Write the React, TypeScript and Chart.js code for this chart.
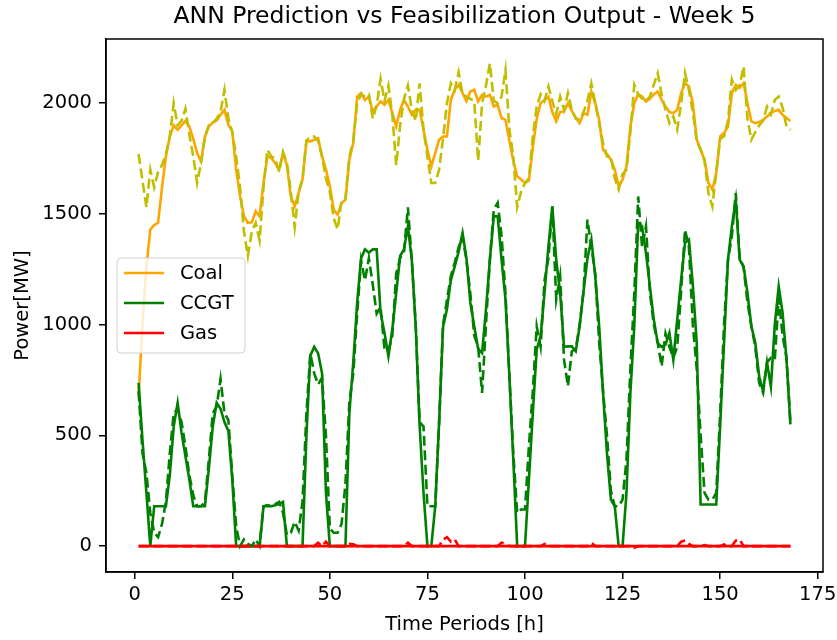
import React, { useEffect, useRef } from "react";
import { Chart, registerables } from "chart.js";

Chart.register(...registerables);

const TITLE = "ANN Prediction vs Feasibilization Output - Week 5";
const X_LABEL = "Time Periods [h]";
const Y_LABEL = "Power[MW]";
const X_TICKS = [0, 25, 50, 75, 100, 125, 150, 175];
const Y_TICKS = [0, 500, 1000, 1500, 2000];

const HOURS = Array.from({ length: 168 }, (_, i) => i + 1);

const COAL_FEAS = [
  680, 1000, 1260, 1430, 1450, 1460, 1620, 1760, 1850, 1900, 1880, 1900, 1920, 1895, 1840, 1775, 1737, 1850, 1895, 1913,
  1922, 1948, 1970, 1903, 1873, 1700, 1580, 1490, 1460, 1462, 1512, 1489, 1640, 1760, 1752, 1730, 1700, 1775, 1720, 1580,
  1534, 1594, 1655, 1830, 1828, 1835, 1843, 1760, 1700, 1625, 1519, 1497, 1549, 1564, 1745, 1820, 2030, 2046, 2015, 2030,
  1963, 1985, 2008, 1993, 2015, 1955, 1895, 1970, 2015, 1985, 1948, 1970, 1970, 1880, 1790, 1715, 1775, 1835, 1850, 1850,
  2015, 2061, 2083, 2046, 2010, 2053, 2061, 2008, 2038, 2030, 2038, 1985, 1993, 1933, 1925, 1830, 1740, 1670, 1655, 1640,
  1650, 1800, 1930, 2000, 2015, 2030, 1960, 1918, 1960, 1963, 2000, 1965, 1935, 1910, 1955, 1948, 2053, 2000, 1925, 1790,
  1770, 1745, 1700, 1625, 1655, 1715, 1895, 2000, 2040, 2030, 2008, 2020, 2040, 2053, 2015, 1985, 1960, 1955, 1970, 2046,
  2091, 2076, 2000, 1835, 1790, 1745, 1640, 1610, 1685, 1850, 1865, 1895, 2046, 2083, 2070, 2091, 2000, 1918, 1910, 1915,
  1925, 1940, 1955, 1965, 1970, 1948, 1933, 1920,
];

const COAL_ANN = [
  1770, 1650, 1530, 1700, 1620, 1690, 1720, 1770, 1850, 2000, 1900, 1920, 1975, 1860, 1760, 1640, 1730, 1850, 1900, 1910,
  1930, 1960, 2060, 1930, 1870, 1760, 1620, 1420, 1310, 1420, 1460, 1380, 1620, 1790, 1760, 1750, 1690, 1780, 1730, 1600,
  1440, 1600, 1660, 1830, 1850, 1850, 1830, 1760, 1660, 1600, 1480, 1430, 1560, 1570, 1760, 1830, 2000, 2040, 2030, 2040,
  1930, 1990, 2110, 2010, 2080, 1950, 1720, 1900, 2020, 2080, 1970, 1920, 2090, 1880, 1760, 1640, 1640, 1700, 1840, 2000,
  2090, 2060, 2140, 2040, 2030, 2020, 2010, 1740, 2000, 2080, 2180, 2010, 2000, 2030, 2150, 1880, 1760, 1530, 1600, 1640,
  1660, 1850, 1985, 2040, 2010, 2076, 2010, 1950, 2030, 1970, 2046, 1970, 1930, 1925, 1960, 2010, 2090, 2000, 1910, 1820,
  1760, 1760, 1660, 1610, 1680, 1700, 1870, 2083, 2040, 2020, 2010, 2030, 2083, 2136, 2040, 1970, 1910, 1940, 1880, 2000,
  2136, 2060, 1960, 1830, 1790, 1740, 1594, 1534, 1690, 1840, 1850, 1920, 2106, 2060, 2080, 2166, 1930, 1835, 1870, 1900,
  1920, 1985, 1950, 2015, 2030, 1980, 1895, 1880,
];

const CCGT_FEAS = [
  737, 480, 240, 0, 180, 180, 180, 180, 320, 540, 647, 512, 406, 301, 180, 180, 180, 180, 350, 540,
  647, 620, 560, 520, 300, 0, 0, 0, 0, 0, 0, 0, 180, 180, 180, 185, 190, 200, 0, 0,
  0, 0, 0, 500, 860, 900, 870, 780, 240, 0, 0, 0, 0, 0, 600, 830, 1100, 1300, 1340, 1325,
  1340, 1340, 1053, 963, 857, 978, 1143, 1310, 1340, 1444, 1293, 993, 542, 241, 0, 0, 180, 560, 990, 1070,
  1200, 1263, 1330, 1414, 1300, 1098, 993, 890, 872, 1068, 1293, 1489, 1489, 1293, 1113, 767, 391, 0, 0, 0,
  300, 600, 888, 948, 1143, 1354, 1534, 1293, 1143, 900, 902, 902, 880, 993, 1150, 1300, 1384, 1218, 993, 692,
  420, 210, 180, 0, 0, 240, 692, 993, 1459, 1444, 1323, 1173, 1023, 918, 900, 910, 963, 842, 1023, 1203,
  1369, 1384, 1180, 918, 188, 188, 188, 188, 188, 542, 918, 1293, 1444, 1564, 1293, 1263, 1143, 993, 918, 767,
  700, 830, 720, 1000, 1173, 1053, 842, 550,
];

const CCGT_ANN = [
  700, 420, 330, 150, 60, 40, 100, 200, 420, 600, 620, 560, 450, 320, 230, 180, 180, 200, 391, 600,
  630, 755, 600, 570, 320, 90, 0, 30, 10, 0, 30, 0, 180, 185, 180, 190, 200, 150, 50, 60,
  110, 70, 200, 600, 870, 780, 730, 760, 500, 80, 60, 60, 100, 280, 650, 780, 1050, 1290, 1200, 1300,
  1180, 1050, 1080, 890, 880, 950, 1230, 1300, 1330, 1530, 1290, 1000, 560, 540, 180, 180, 180, 560, 1000, 1110,
  1220, 1280, 1350, 1400, 1290, 1140, 950, 900, 692, 1000, 1293, 1520, 1550, 1400, 1140, 767, 420, 150, 165, 165,
  450, 700, 993, 900, 1200, 1300, 1534, 1113, 1220, 842, 722, 880, 890, 1000, 1150, 1474, 1350, 1230, 920, 700,
  500, 250, 180, 180, 210, 391, 800, 1143, 1579, 1350, 1444, 1143, 1000, 918, 812, 960, 900, 850, 900, 1150,
  1429, 1350, 1000, 800, 500, 240, 210, 210, 240, 600, 1000, 1290, 1400, 1594, 1300, 1260, 1100, 993, 900, 737,
  692, 830, 850, 842, 1120, 950, 850, 560,
];

const GAS_FEAS = [
  0, 0, 0, 0, 0, 0, 0, 0, 0, 0, 0, 0, 0, 0, 0, 0, 0, 0, 0, 0,
  0, 0, 0, 0, 0, 0, 0, 0, 0, 0, 0, 0, 0, 0, 0, 0, 0, 0, 0, 0,
  0, 0, 0, 0, 0, 0, 0, 0, 0, 0, 0, 0, 0, 0, 0, 0, 0, 0, 0, 0,
  0, 0, 0, 0, 0, 0, 0, 0, 0, 0, 0, 0, 0, 0, 0, 0, 0, 0, 0, 0,
  0, 0, 0, 0, 0, 0, 0, 0, 0, 0, 0, 0, 0, 0, 0, 0, 0, 0, 0, 0,
  0, 0, 0, 0, 0, 0, 0, 0, 0, 0, 0, 0, 0, 0, 0, 0, 0, 0, 0, 0,
  0, 0, 0, 0, 0, 0, 0, 0, 0, 0, 0, 0, 0, 0, 0, 0, 0, 0, 0, 0,
  0, 0, 0, 0, 0, 0, 0, 0, 0, 0, 0, 0, 0, 0, 0, 0, 0, 0, 0, 0,
  0, 0, 0, 0, 0, 0, 0, 0,
];

const GAS_ANN = [
  0, 0, 0, 0, 0, 0, 0, 0, 0, 0, 0, 0, 0, 0, 0, 0, 0, 0, 0, 0,
  0, 0, 0, 0, 0, 0, 0, 0, 0, 0, 0, 0, 0, 0, 0, 0, 0, 0, 0, 0,
  0, 0, 0, 0, 0, 0, 15, 0, 20, 0, 0, 0, 0, 0, 10, 8, 0, 0, 0, 0,
  0, 0, 0, 0, 0, 0, 0, 0, 0, 15, 0, 0, 0, 0, 0, 0, 0, 0, 30, 40,
  20, 30, 0, 0, 0, 0, 0, 0, 0, 0, 0, 0, 0, 15, 10, 0, 0, 0, 0, 0,
  0, 0, 0, 0, 10, 0, 0, 0, 0, 0, 0, 0, 0, 0, 0, 0, 15, 0, 0, 0,
  0, 0, 0, 0, 0, 0, 0, -8, 0, 0, 0, 0, 0, 0, 0, 0, 0, 0, 0, 20,
  25, 10, 0, 0, 0, 5, 0, 0, 0, 0, 8, 0, 0, 25, 30, 0, 0, 0, 0, 0,
  0, 0, 0, 0, 0, 0, 0, 0,
];

const FONT = "'DejaVu Sans', sans-serif";
const FS = 19.5;

const toPoints = (vals: number[]) => HOURS.map((h, i) => ({ x: h, y: vals[i] }));

const framePlugin = {
  id: "frame",
  afterDatasetsDraw(chart: any) {
    const { ctx, chartArea } = chart;
    const { left, top, right, bottom } = chartArea;
    ctx.save();
    ctx.strokeStyle = "#000";
    ctx.lineWidth = 1.5;
    ctx.strokeRect(left, top, right - left, bottom - top);
    ctx.restore();
  },
};

const legendPlugin = {
  id: "boxLegend",
  afterDraw(chart: any) {
    const { ctx, chartArea } = chart;
    const items = chart.data.datasets.filter((d: any) => d.inLegend);
    const x = chartArea.left + 11;
    const y = chartArea.top + 219;
    const w = 128;
    const h = 95;
    ctx.save();
    ctx.beginPath();
    ctx.roundRect(x, y, w, h, 4);
    ctx.fillStyle = "rgba(255,255,255,0.8)";
    ctx.fill();
    ctx.strokeStyle = "#d0d0d0";
    ctx.lineWidth = 1;
    ctx.stroke();
    items.forEach((d: any, i: number) => {
      const ly = y + 15 + i * 30;
      ctx.beginPath();
      ctx.strokeStyle = d.borderColor;
      ctx.lineWidth = 2.6;
      ctx.moveTo(x + 7, ly);
      ctx.lineTo(x + 47, ly);
      ctx.stroke();
      ctx.fillStyle = "#000";
      ctx.font = `${FS}px ${FONT}`;
      ctx.textBaseline = "middle";
      ctx.textAlign = "left";
      ctx.fillText(d.label, x + 63, ly + 1);
    });
    ctx.restore();
  },
};

export default function App() {
  const ref = useRef<HTMLCanvasElement>(null);

  useEffect(() => {
    if (!ref.current) return;
    const line = (label: string, vals: number[], color: string, dashed: boolean, order: number, inLegend: boolean) => ({
      label,
      data: toPoints(vals),
      borderColor: color,
      backgroundColor: color,
      borderWidth: 2.6,
      borderDash: dashed ? [10, 4.5] : [],
      pointRadius: 0,
      tension: 0,
      fill: false,
      order,
      inLegend,
    });
    const chart = new Chart(ref.current, {
      type: "line",
      data: {
        datasets: [
          line("Coal", COAL_FEAS, "#FFA500", false, 6, true),
          line("CCGT", CCGT_FEAS, "#008000", false, 5, true),
          line("Gas", GAS_FEAS, "#FF0000", false, 4, true),
          line("Coal ANN", COAL_ANN, "#BFBF00", true, 3, false),
          line("CCGT ANN", CCGT_ANN, "#008000", true, 2, false),
          line("Gas ANN", GAS_ANN, "#FF0000", true, 1, false),
        ] as any,
      },
      options: {
        animation: false,
        responsive: false,
        devicePixelRatio: 1,
        layout: { padding: { top: 0, right: 14, bottom: 0, left: 0 } },
        plugins: {
          legend: { display: false },
          tooltip: { enabled: false },
          title: {
            display: true,
            fullSize: false,
            text: TITLE,
            color: "#000",
            font: { family: FONT, size: 23.5, weight: "normal" },
            padding: { top: 2.8, bottom: 8 },
          },
        },
        scales: {
          x: {
            type: "linear",
            min: -7.35,
            max: 176.35,
            afterBuildTicks: (s: any) => {
              s.ticks = X_TICKS.map((v) => ({ value: v }));
            },
            afterFit: (s: any) => {
              s.height = 68;
              s.paddingLeft = 0;
              s.paddingRight = 0;
            },
            ticks: {
              color: "#000",
              font: { family: FONT, size: FS },
              padding: 4,
              maxRotation: 0,
              autoSkip: false,
              callback: (v: any) => String(v),
            },
            grid: { display: true, drawOnChartArea: false, drawTicks: true, tickLength: 7, color: "#000", lineWidth: 1.5 },
            border: { display: true, color: "#000", width: 1.5 },
            title: {
              display: true,
              text: X_LABEL,
              color: "#000",
              font: { family: FONT, size: FS },
              padding: { top: 0, bottom: 3.3 },
            },
          },
          y: {
            type: "linear",
            min: -117,
            max: 2290,
            afterBuildTicks: (s: any) => {
              s.ticks = Y_TICKS.map((v) => ({ value: v }));
            },
            afterFit: (s: any) => {
              s.width = 106;
              s.paddingTop = 0;
              s.paddingBottom = 0;
            },
            ticks: {
              color: "#000",
              font: { family: FONT, size: FS },
              padding: 7,
              callback: (v: any) => String(v),
            },
            grid: { display: true, drawOnChartArea: false, drawTicks: true, tickLength: 7, color: "#000", lineWidth: 1.5 },
            border: { display: true, color: "#000", width: 1.5 },
            title: {
              display: true,
              text: Y_LABEL,
              color: "#000",
              font: { family: FONT, size: FS },
              padding: { top: 11.3, bottom: 0 },
            },
          },
        },
      },
      plugins: [framePlugin, legendPlugin],
    } as any);
    return () => chart.destroy();
  }, []);

  return (
    <div style={{ position: "absolute", left: 0, top: 0, width: 837, height: 640, background: "#fff" }}>
      <canvas ref={ref} width={837} height={640} />
    </div>
  );
}
